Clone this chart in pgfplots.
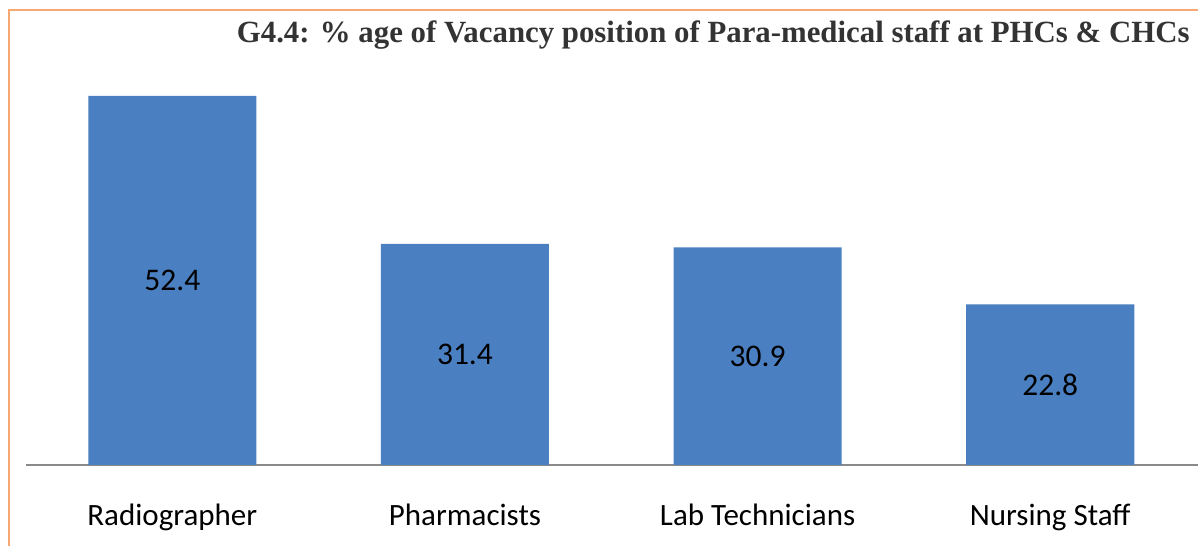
\documentclass[border=0pt]{standalone}
\usepackage{pgfplots}
\pgfplotsset{compat=1.18}
\usepackage{fontspec}
\setmainfont{Carlito}
\newfontfamily\titlefont{Liberation Serif}
\definecolor{barblue}{HTML}{4A7FC1}
\definecolor{framec}{HTML}{F8A872}
\definecolor{axisgray}{HTML}{8A8A8A}
\begin{document}
\begin{tikzpicture}[x=0.4pt,y=0.4pt]
\path[use as bounding box] (0,0) rectangle (1198,546);
\draw[framec, line width=0.8pt] (9,0) -- (9,536) -- (1198,536);
\begin{axis}[
  at={(10.4pt,32.4pt)}, anchor=south west,
  scale only axis,
  width=468.8pt, height=182pt,
  xmin=-0.5, xmax=3.505, ymin=0, ymax=64.6,
  axis x line*=bottom, axis y line=none,
  axis line style={axisgray, line width=0.8pt},
  xtick={0,1,2,3},
  xticklabels={Radiographer,Pharmacists,Lab Technicians,Nursing Staff},
  major tick length=0pt,
  xticklabel style={font=\fontsize{12.4pt}{14pt}\selectfont, anchor=base, yshift=-24.2pt},
  ytick=\empty,
  clip=false,
  nodes near coords style={font=\fontsize{12.6pt}{14pt}\selectfont, anchor=center},
]
\addplot[ybar, bar width=67.2pt, fill=barblue, draw=none, bar shift=0pt]
  coordinates {(0,52.4) (1,31.4) (2,30.9) (3,22.8)};
\addplot[draw=none, mark=none, nodes near coords, point meta=explicit symbolic]
  coordinates {(0,26.2)[52.4] (1,15.7)[31.4] (2,15.45)[30.9] (3,11.4)[22.8]};
\end{axis}
\node[anchor=base east, text=black!80, font=\titlefont\bfseries\fontsize{12.33pt}{14pt}\selectfont, inner sep=0pt] at (1190,503) {G4.4: \% age of Vacancy position of Para-medical staff at PHCs \& CHCs};
\end{tikzpicture}
\end{document}
